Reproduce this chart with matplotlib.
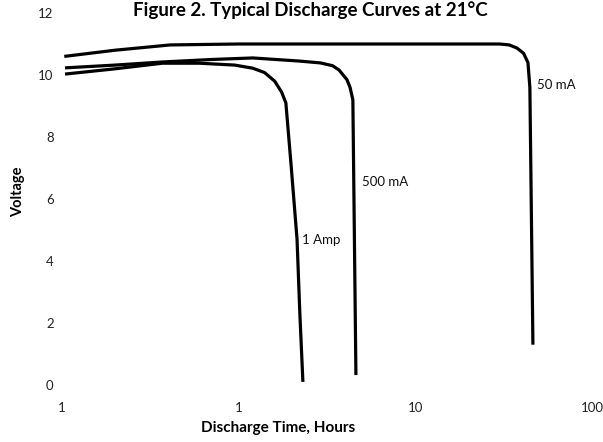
import matplotlib
matplotlib.use("Agg")
import matplotlib.pyplot as plt

plt.rcParams['font.family'] = ['Lato', 'DejaVu Sans']

# discharge curves (hours, volts)
hours_50ma = [0.103, 0.2, 0.41, 1.0, 3.0, 10.0, 30.0, 34.0, 37.6, 41.0, 43.4, 44.5, 46.3]
volts_50ma = [10.6, 10.8, 10.97, 11.0, 11.0, 11.0, 11.0, 10.97, 10.87, 10.7, 10.4, 9.6, 1.3]

hours_500ma = [0.104, 0.2, 0.37, 0.7, 1.2, 2.2, 2.9, 3.4, 3.7, 4.1, 4.27, 4.43, 4.61]
volts_500ma = [10.23, 10.32, 10.42, 10.5, 10.55, 10.45, 10.39, 10.3, 10.16, 9.85, 9.6, 9.2, 0.32]

hours_1a = [0.104, 0.2, 0.37, 0.6, 0.95, 1.2, 1.4, 1.6, 1.75, 1.85, 1.98, 2.14, 2.22, 2.31]
volts_1a = [10.03, 10.2, 10.38, 10.38, 10.32, 10.22, 10.08, 9.8, 9.45, 9.1, 7.1, 4.7, 2.3, 0.1]

series = [
    (hours_50ma, volts_50ma, '50 mA', 48.8, 9.68),
    (hours_500ma, volts_500ma, '500 mA', 4.99, 6.55),
    (hours_1a, volts_1a, '1 Amp', 2.28, 4.68),
]

x_ticks = [0.1, 1, 10, 100]
x_ticklabels = ['1', '1', '10', '100']
y_ticks = [0, 2, 4, 6, 8, 10, 12]

fig = plt.figure(figsize=(6.03, 4.42), dpi=100)
ax = fig.add_axes([62 / 603, 1 - 385 / 442, 530 / 603, 372 / 442])

for hrs, volts, label, lx, ly in series:
    ax.plot(hrs, volts, color='black', lw=2.3, solid_capstyle='butt', solid_joinstyle='round')
    ax.text(lx, ly, label, fontsize=9.5, ha='left', va='center', color='#111111')

ax.set_xscale('log')
ax.set_xlim(0.1, 100)
ax.set_ylim(0, 12)
ax.set_xticks(x_ticks)
ax.set_xticklabels(x_ticklabels)
ax.minorticks_off()
ax.set_yticks(y_ticks)
ax.tick_params(axis='both', length=0, labelsize=9.5, colors='#222222')
ax.tick_params(axis='x', pad=12)
ax.tick_params(axis='y', pad=6)
for s in ax.spines.values():
    s.set_visible(False)

fig.text(278 / 603, 1 - 428 / 442, 'Discharge Time, Hours', ha='center', va='center',
         fontsize=11, fontweight='bold')
fig.text(18 / 603, 1 - 192 / 442, 'Voltage', ha='center', va='center', rotation=90,
         fontsize=10.5, fontweight='bold')
fig.text(310 / 603, 1 - 1 / 442, 'Figure 2. Typical Discharge Curves at 21°C', ha='center',
         va='top', fontsize=13.5, fontweight='bold')

fig.savefig('out.png', dpi=100)
